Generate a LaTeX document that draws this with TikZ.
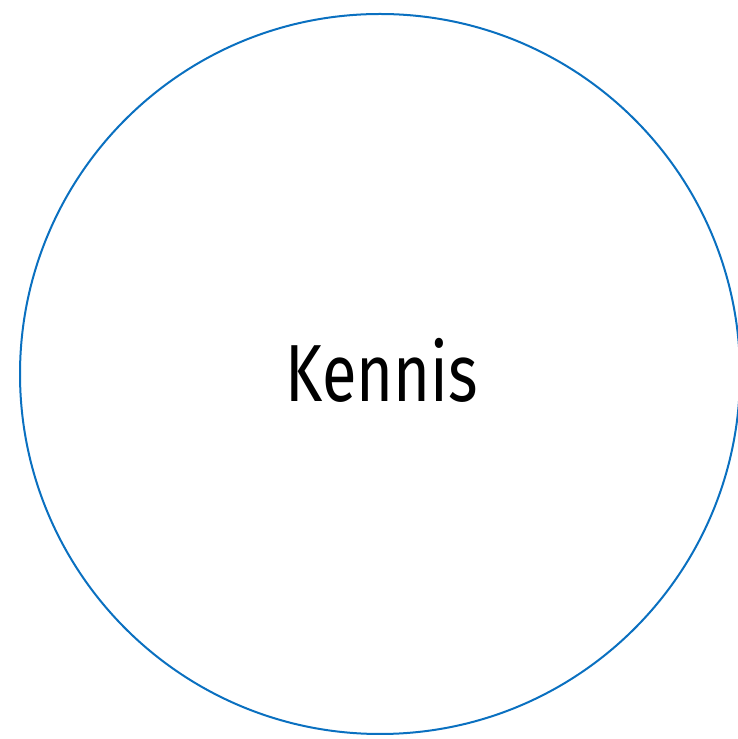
\documentclass[tikz,border=0pt]{standalone}
\usepackage{fontspec}
\setmainfont{Fira Sans}[FakeStretch=0.78]
\definecolor{ringblue}{HTML}{0A70C0}
\begin{document}
\begin{tikzpicture}[x=1pt,y=1pt,
  ring/.style={circle,draw=ringblue,line width=2pt,minimum size=720pt,inner sep=0pt},
  lbl/.style={font=\fontsize{81}{90}\selectfont,text=black,inner sep=0pt,anchor=base}]
\useasboundingbox (0,0) rectangle (737,739);
\node[ring] (c) at (380,365) {};
\node[lbl] (t) at (382,337) {Kennis};
\end{tikzpicture}
\end{document}
